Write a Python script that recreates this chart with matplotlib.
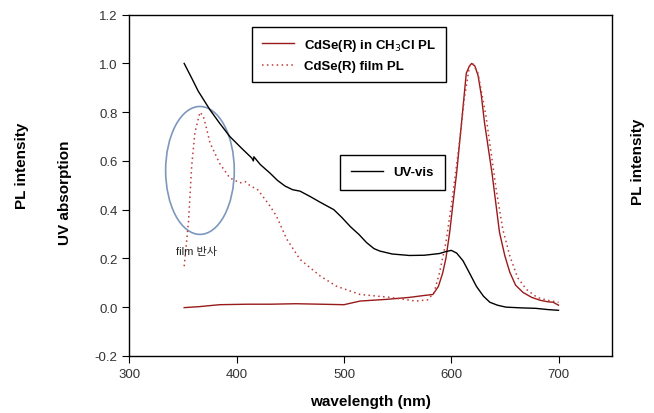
import matplotlib
matplotlib.use("Agg")
import matplotlib.pyplot as plt
from matplotlib.patches import Ellipse

plt.rcParams["font.family"] = ["Liberation Sans", "Noto Sans CJK KR", "DejaVu Sans"]

# UV-vis absorption (black)
uv_x = [351, 358, 364, 370, 375, 384, 393.6, 405, 414, 415.5, 416, 422, 431, 438, 445, 452,
        459, 468, 478, 490.5, 498, 506, 514, 521, 528, 533.5, 545, 561, 575, 589, 595,
        600, 605, 611, 617, 623.5, 630, 636, 643, 651, 665, 679, 690, 700]
uv_y = [1.0, 0.94, 0.887, 0.845, 0.81, 0.755, 0.70, 0.65, 0.612, 0.60, 0.617, 0.585, 0.55, 0.52,
        0.497, 0.482, 0.476, 0.455, 0.43, 0.40, 0.368, 0.33, 0.298, 0.265, 0.24, 0.23, 0.218,
        0.212, 0.213, 0.22, 0.228, 0.233, 0.222, 0.19, 0.14, 0.085, 0.045, 0.02, 0.008, 0.0,
        -0.003, -0.005, -0.01, -0.013]

# CdSe(R) in CH3Cl PL (solid)
sol_x = [351, 365, 384, 410, 431, 455, 478, 500, 515, 540, 561, 575, 582.9, 588, 592, 595,
         598.5, 602, 605, 609.6, 614, 617, 619, 622, 625, 628, 631, 638, 645, 650, 654.6,
         660, 667, 675, 683, 690, 695, 700]
sol_y = [-0.002, 0.002, 0.01, 0.012, 0.012, 0.014, 0.012, 0.01, 0.025, 0.032, 0.04, 0.048,
         0.052, 0.085, 0.14, 0.2, 0.306, 0.44, 0.55, 0.757, 0.96, 0.99, 1.0, 0.99, 0.95, 0.87,
         0.757, 0.55, 0.306, 0.21, 0.143, 0.09, 0.06, 0.04, 0.028, 0.022, 0.02, 0.008]

# CdSe(R) film PL (dotted)
film_x = [351, 355, 358, 361, 364, 365.7, 368.8, 372, 375, 384, 393.6, 403, 408, 412, 420,
          431, 437, 446.5, 459, 478, 493, 515, 543, 567, 578, 584, 589, 595, 600, 604, 608,
          612, 617, 620, 625, 632.5, 642, 648, 654.6, 662, 670, 680, 690, 700]
film_y = [0.168, 0.35, 0.58, 0.716, 0.77, 0.80, 0.784, 0.73, 0.675, 0.59, 0.53, 0.51, 0.515,
          0.50, 0.48, 0.415, 0.374, 0.28, 0.196, 0.127, 0.086, 0.052, 0.04, 0.025, 0.03, 0.06,
          0.14, 0.265, 0.415, 0.55, 0.69, 0.85, 0.99, 1.0, 0.96, 0.78, 0.48, 0.32, 0.21, 0.12,
          0.073, 0.04, 0.028, 0.02]

fig = plt.figure(figsize=(6.54, 4.14), dpi=100)
ax = fig.add_axes([0.198, 0.138, 0.738, 0.824])

l_sol, = ax.plot(sol_x, sol_y, color="#991a1a", lw=1.0, label="CdSe(R) in CH$_3$Cl PL")
l_film, = ax.plot(film_x, film_y, color="#c03a3a", lw=1.1, linestyle=(0, (1, 2.2)),
                  label="CdSe(R) film PL")
l_uv, = ax.plot(uv_x, uv_y, color="black", lw=1.0, label="UV-vis")

ax.add_patch(Ellipse((365.7, 0.561), 64, 0.525, fill=False, edgecolor="#7d98bd", lw=1.2))
ax.text(343, 0.22, "film 반사", fontsize=8, color="#222222")

ax.set_xlim(300, 750)
ax.set_ylim(-0.2, 1.2)
ax.set_xticks([300, 400, 500, 600, 700])
ax.set_yticks([-0.2, 0.0, 0.2, 0.4, 0.6, 0.8, 1.0, 1.2])
ax.set_yticklabels(["-0.2", "0.0", "0.2", "0.4", "0.6", "0.8", "1.0", "1.2"])
ax.tick_params(direction="out", length=5, labelsize=9.5, labelcolor="#333333", width=0.8)
for s in ax.spines.values():
    s.set_linewidth(1.0)

ax.set_xlabel("wavelength (nm)", fontsize=11, fontweight="bold", labelpad=10)
fig.text(0.034, 0.60, "PL intensity", rotation=90, fontsize=11, fontweight="bold",
         ha="center", va="center")
fig.text(0.100, 0.535, "UV absorption", rotation=90, fontsize=11, fontweight="bold",
         ha="center", va="center")
fig.text(0.975, 0.61, "PL intensity", rotation=90, fontsize=11, fontweight="bold",
         ha="center", va="center")

leg1 = ax.legend(handles=[l_sol, l_film], loc="upper left", bbox_to_anchor=(0.254, 0.964),
                 fancybox=False, edgecolor="black", framealpha=1, borderaxespad=0,
                 prop={"weight": "bold", "size": 9.5}, handlelength=2.4, borderpad=0.75,
                 labelspacing=0.55)
leg1.get_frame().set_linewidth(1.0)
ax.add_artist(leg1)
leg2 = ax.legend(handles=[l_uv], loc="upper left", bbox_to_anchor=(0.436, 0.589),
                 fancybox=False, edgecolor="black", framealpha=1, borderaxespad=0,
                 prop={"weight": "bold", "size": 9.5}, handlelength=2.4, borderpad=0.85)
leg2.get_frame().set_linewidth(1.0)

fig.savefig("out.png", dpi=100)
